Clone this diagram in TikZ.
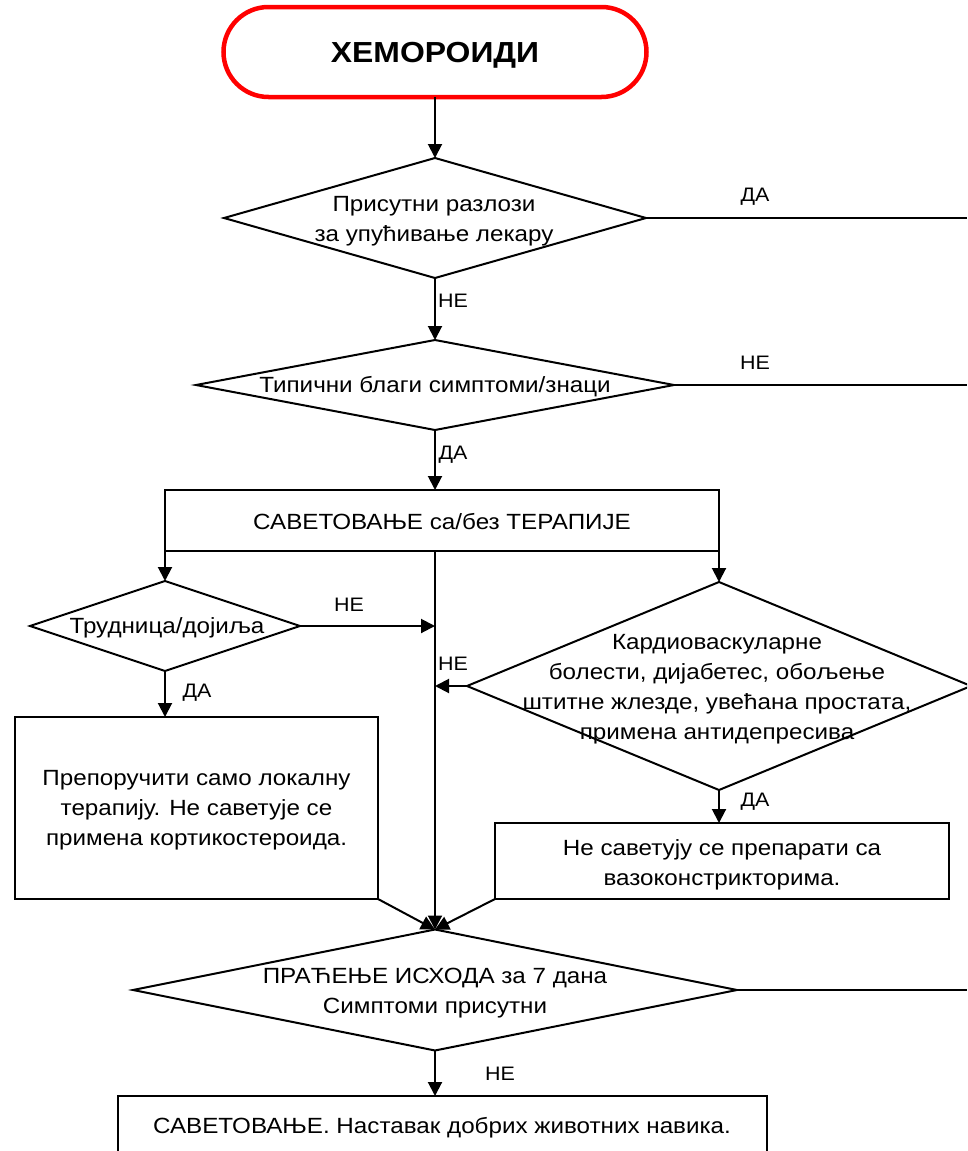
\documentclass[tikz,border=0pt]{standalone}
\usepackage{fontspec}
\setmainfont{Liberation Sans}[FakeStretch=1.1]
\usetikzlibrary{shapes.geometric,shapes.misc,arrows.meta}
\begin{document}
\begin{tikzpicture}[x=1pt,y=-1pt,
  every node/.style={font=\fontsize{22}{30}\selectfont},
  ln/.style={line width=2pt},
  arr/.style={ln,-{Triangle[length=14pt,width=14pt]}},
  dia/.style={draw,ln,shape=diamond,inner sep=0pt,outer sep=0pt},
  box/.style={draw,ln,rectangle,inner sep=0pt,outer sep=0pt,align=center},
  txt/.style={align=center,inner sep=0pt},
  lbl/.style={font=\fontsize{19.5}{22}\selectfont,inner sep=0pt},
]
\clip (0,0) rectangle (967,1151);
\fill[white] (0,0) rectangle (967,1151);

% terminal
\node[draw=red,line width=4.5pt,rounded rectangle,minimum width=423,minimum height=90,inner sep=0pt,outer sep=0pt] (t) at (435,52) {};
\node[txt,font=\fontsize{29}{32}\selectfont\bfseries] at (435,55) {ХЕМОРОИДИ};

% decisions
\node[dia,minimum width=422,minimum height=120] (d1) at (435,218) {};
\node[txt] at (434,221) {Присутни разлози\\за упућивање лекару};

\node[dia,minimum width=478,minimum height=90] (d2) at (435,385) {};
\node[txt] at (435,387) {Типични благи симптоми/знаци};

\node[box,minimum width=554,minimum height=61] (b3) at (442,520.5) {};
\node[txt] at (442,522) {САВЕТОВАЊЕ са/без ТЕРАПИЈЕ};

\node[dia,minimum width=270,minimum height=90] (d4) at (165,626) {};
\node[txt] at (167,628) {Трудница/дојиља};

\node[dia,minimum width=504,minimum height=208] (d5) at (719,686) {};
\node[txt] at (717,689) {Кардиоваскуларне\\болести, дијабетес, обољење\\штитне жлезде, увећана простата,\\примена антидепресива};

\node[box,minimum width=363,minimum height=182] (b6) at (196.5,808) {};
\node[txt] at (196.5,810) {Препоручити само локалну\\терапију. Не саветује се\\примена кортикостероида.};

\node[box,minimum width=454,minimum height=76] (b7) at (722,861) {};
\node[txt] at (722,865) {Не саветују се препарати са\\вазоконстрикторима.};

\node[dia,minimum width=604,minimum height=121] (d8) at (435,990) {};
\node[txt] at (435,993) {ПРАЋЕЊЕ ИСХОДА за 7 дана\\Симптоми присутни};

\node[box,minimum width=649,minimum height=90] (b9) at (442.5,1141) {};
\node[txt] at (442,1128) {САВЕТОВАЊЕ. Наставак добрих животних навика.};

% coordinates
\coordinate (e1) at (967,218);
\coordinate (e2) at (967,385);
\coordinate (e8) at (967,990);
\coordinate (tr) at (d8.north |- b3.south);

% connectors
\draw[arr] (t.south -| d1.north) -- (d1.north);
\draw[arr] (d1.south) -- (d2.north);
\draw[arr] (d2.south) -- (d2.south |- b3.north);
\draw[ln] (d1.east) -- (e1);
\draw[ln] (d2.east) -- (e2);
\draw[ln] (d8.east) -- (e8);
\draw[arr] (b3.south west) -- (d4.north);
\draw[arr] (b3.south east) -- (d5.north);
\draw[arr] (d4.east) -- (tr |- d4.east);
\draw[arr] (d5.west) -- (tr |- d5.west);
\draw[arr] (d4.south) -- (d4.south |- b6.north);
\draw[arr] (d5.south) -- (d5.south |- b7.north);
\draw[arr] (tr) -- (d8.north);
\draw[arr] (b6.south east) -- (d8.north);
\draw[arr] (b7.south west) -- (d8.north);
\draw[arr] (d8.south) -- (d8.south |- b9.north);

% labels
\node[lbl] (l1) at (755,197) {ДА};
\node[lbl] (l2) at (453,301) {НЕ};
\node[lbl] (l3) at (755,363) {НЕ};
\node[lbl] (l4) at (453,455) {ДА};
\node[lbl] (l5) at (349,605) {НЕ};
\node[lbl] (l6) at (453,664) {НЕ};
\node[lbl] (l7) at (197,693) {ДА};
\node[lbl] (l8) at (755,802) {ДА};
\node[lbl] (l9) at (500,1074) {НЕ};
\end{tikzpicture}
\end{document}
